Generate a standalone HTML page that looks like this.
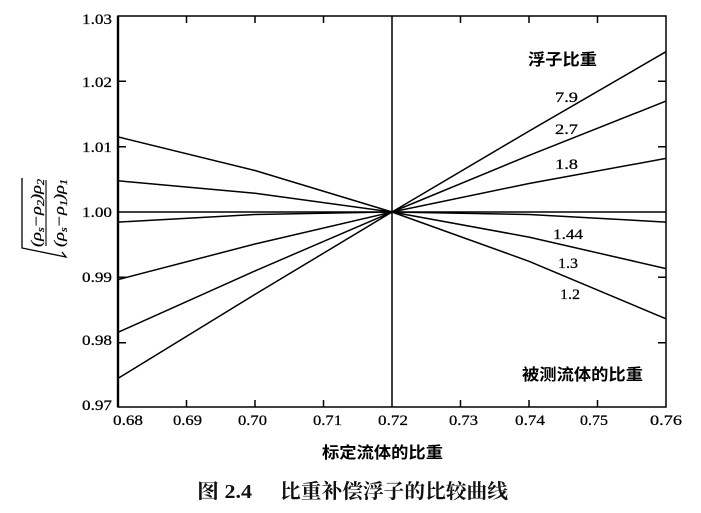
<!DOCTYPE html>
<html><head><meta charset="utf-8"><style>
html,body{margin:0;padding:0;background:#fff;}
svg{display:block;}
.t{font-family:"Liberation Serif","Noto Serif CJK SC",serif;font-size:15px;fill:#000;stroke:#000;stroke-width:0.25;}
.c{font-family:"Liberation Sans","Noto Sans CJK SC",sans-serif;font-size:16px;font-weight:bold;fill:#000;}
.cap{font-family:"Liberation Serif","Noto Serif CJK SC",serif;font-size:20px;font-weight:bold;fill:#111;}
</style></head><body>
<svg width="701" height="513" viewBox="0 0 701 513" xmlns="http://www.w3.org/2000/svg">
<rect x="0" y="0" width="701" height="513" fill="#fff"/>
<g stroke="#000" fill="none" stroke-width="1.5">
<rect x="118" y="16" width="548" height="391"/>
<line x1="118" y1="16" x2="118" y2="407" stroke-width="2.4"/>
<line x1="392" y1="16" x2="392" y2="407"/>
<line x1="118" y1="212" x2="666" y2="212"/>
<path d="M186.5 407v-7M255 407v-7M323.5 407v-7M460.5 407v-7M529 407v-7M597.5 407v-7"/>
<path d="M186.5 16v7M255 16v7M323.5 16v7M460.5 16v7M529 16v7M597.5 16v7"/>
<path d="M118 81.3h8M118 146.7h8M118 277.3h8M118 342.7h8"/>
<path d="M666 81.3h-8M666 146.7h-8M666 277.3h-8M666 342.7h-8"/>
<polyline points="118,378.4 255,294.4 392,212 529,131.1 666,51.7"/>
<polyline points="118,332.3 255,270.9 392,212 529,155.4 666,101.1"/>
<polyline points="118,279.6 255,244 392,212 529,183.5 666,158.4"/>
<polyline points="118,222.1 255,214.5 392,212 529,214.5 666,222.1"/>
<polyline points="118,180.8 255,193.2 392,212 529,237.1 666,268.6"/>
<polyline points="118,136.9 255,170.5 392,212 529,261.3 666,318.8"/>
<polyline points="22,178 22,248 66,257 62,252" stroke-width="1.3"/>
<line x1="46" y1="180" x2="46" y2="246" stroke-width="1.1"/>
</g>
<g class="t" text-anchor="end">
<text x="112" y="24" textLength="30" lengthAdjust="spacingAndGlyphs">1.03</text>
<text x="112" y="87" textLength="30" lengthAdjust="spacingAndGlyphs">1.02</text>
<text x="112" y="152" textLength="30" lengthAdjust="spacingAndGlyphs">1.01</text>
<text x="112" y="217" textLength="30" lengthAdjust="spacingAndGlyphs">1.00</text>
<text x="112" y="282" textLength="30" lengthAdjust="spacingAndGlyphs">0.99</text>
<text x="112" y="345" textLength="30" lengthAdjust="spacingAndGlyphs">0.98</text>
<text x="112" y="410" textLength="30" lengthAdjust="spacingAndGlyphs">0.97</text>
</g>
<g class="t">
<text x="113" y="425" textLength="30" lengthAdjust="spacingAndGlyphs">0.68</text>
<text x="173" y="425" textLength="29" lengthAdjust="spacingAndGlyphs">0.69</text>
<text x="238" y="425" textLength="29" lengthAdjust="spacingAndGlyphs">0.70</text>
<text x="313" y="425" textLength="29" lengthAdjust="spacingAndGlyphs">0.71</text>
<text x="378" y="425" textLength="30" lengthAdjust="spacingAndGlyphs">0.72</text>
<text x="449" y="425" textLength="29" lengthAdjust="spacingAndGlyphs">0.73</text>
<text x="515" y="425" textLength="30" lengthAdjust="spacingAndGlyphs">0.74</text>
<text x="580" y="425" textLength="28" lengthAdjust="spacingAndGlyphs">0.75</text>
<text x="650" y="425" textLength="32" lengthAdjust="spacingAndGlyphs">0.76</text>
</g>
<g class="t">
<text x="555" y="102" textLength="23" lengthAdjust="spacingAndGlyphs">7.9</text>
<text x="555" y="134" textLength="23" lengthAdjust="spacingAndGlyphs">2.7</text>
<text x="555" y="169" textLength="23" lengthAdjust="spacingAndGlyphs">1.8</text>
<text x="553" y="239" textLength="30" lengthAdjust="spacingAndGlyphs">1.44</text>
<text x="558" y="268" textLength="20" lengthAdjust="spacingAndGlyphs">1.3</text>
<text x="560" y="299" textLength="20" lengthAdjust="spacingAndGlyphs">1.2</text>
</g>
<text class="c" x="528" y="65" textLength="69" lengthAdjust="spacingAndGlyphs">浮子比重</text>
<text class="c" x="522" y="380" textLength="121" lengthAdjust="spacingAndGlyphs">被测流体的比重</text>
<text class="c" x="322" y="458" textLength="121" lengthAdjust="spacingAndGlyphs">标定流体的比重</text>
<text class="cap" x="197" y="498" textLength="55" lengthAdjust="spacingAndGlyphs">图 2.4</text>
<text class="cap" x="280" y="498" textLength="228" lengthAdjust="spacingAndGlyphs">比重补偿浮子的比较曲线</text>
<g class="t" font-style="italic" font-size="15">
<text transform="translate(41,247) rotate(-90)" textLength="68" lengthAdjust="spacingAndGlyphs">(ρ<tspan font-size="10" dy="3">s</tspan><tspan dy="-3">−ρ</tspan><tspan font-size="10" dy="3">2</tspan><tspan dy="-3">)ρ</tspan><tspan font-size="10" dy="3">2</tspan></text>
<text transform="translate(64,247) rotate(-90)" textLength="68" lengthAdjust="spacingAndGlyphs">(ρ<tspan font-size="10" dy="3">s</tspan><tspan dy="-3">−ρ</tspan><tspan font-size="10" dy="3">1</tspan><tspan dy="-3">)ρ</tspan><tspan font-size="10" dy="3">1</tspan></text>
</g>
</svg>
</body></html>
